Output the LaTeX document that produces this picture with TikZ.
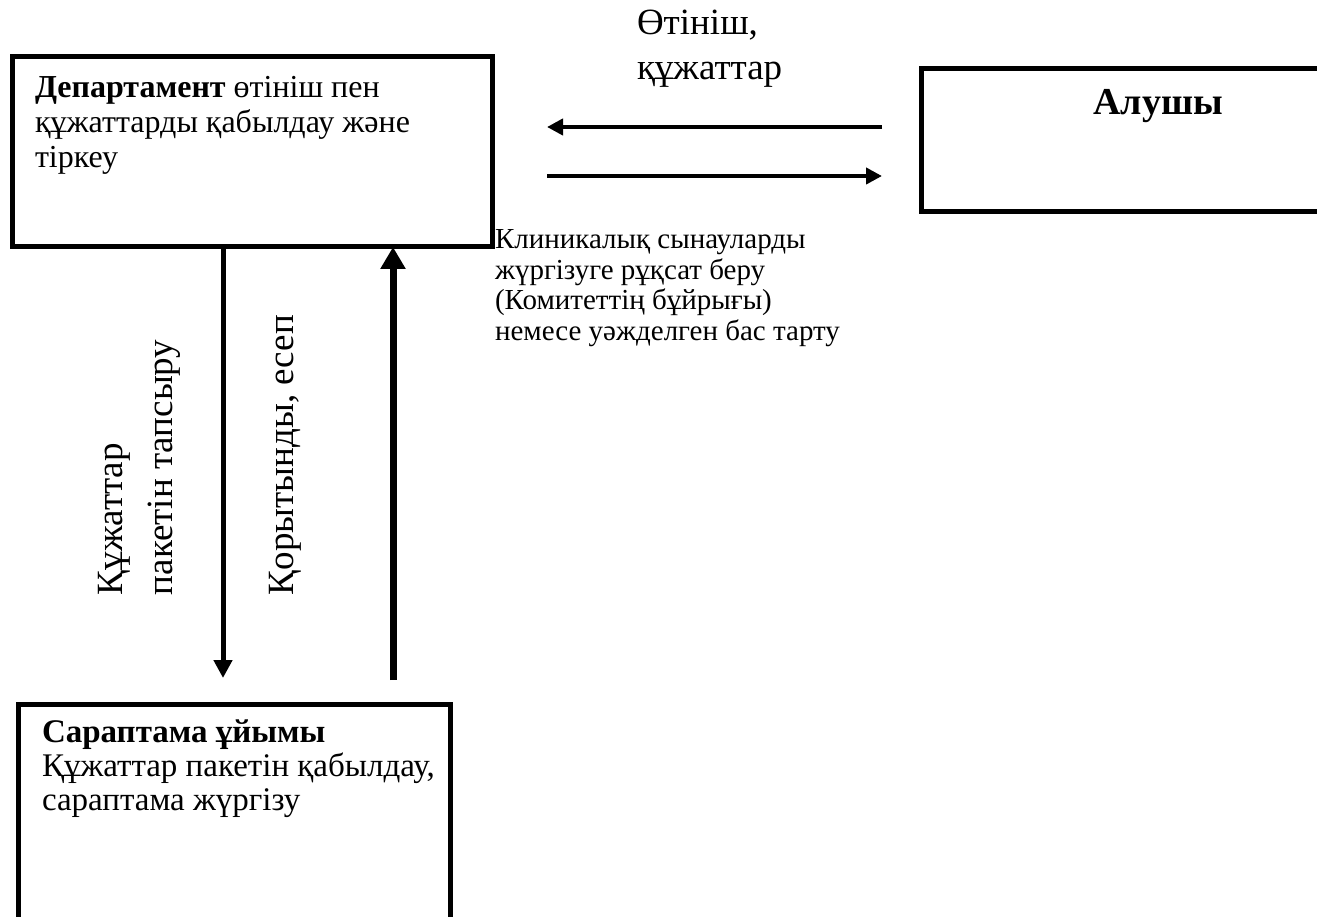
\documentclass[tikz,border=0pt]{standalone}
\usepackage{fontspec}
\setmainfont{Liberation Serif}
\usetikzlibrary{arrows.meta}
\begin{document}
\begin{tikzpicture}[x=1pt,y=-1pt,
  box/.style={draw, line width=5pt, inner sep=0pt, outer sep=0pt, anchor=north west},
  flow/.style={line width=4pt, -{Triangle[length=16pt,width=16pt]}},
  txt/.style={inner sep=0pt, outer sep=0pt, anchor=base west, align=left},
  vtxt/.style={inner sep=0pt, outer sep=0pt, anchor=base west, rotate=90, font=\fontsize{37}{44}\selectfont}]
\clip (0,0) rectangle (1317,917);
\fill[white] (0,0) rectangle (1317,917);
% boxes
\node[box, minimum width=480pt, minimum height=190pt] (dep) at (12,57) {};
\node[box, minimum width=460pt, minimum height=143pt] (alu) at (921,69) {};
\node[box, minimum width=432pt, minimum height=260pt] (sar) at (18,704) {};
% texts (base anchor = baseline of the last line)
\node[txt, font=\fontsize{32}{35}\selectfont] (deptxt) at (35,168)
  {\textbf{Департамент} өтініш пен\\құжаттарды қабылдау және\\тіркеу};
\node[inner sep=0pt, anchor=base, font=\bfseries\fontsize{38}{40}\selectfont] (alutxt) at (1158,115) {Алушы};
\node[txt, font=\fontsize{33}{34}\selectfont] (sartxt) at (42,810)
  {\textbf{Сараптама ұйымы}\\Құжаттар пакетін қабылдау,\\сараптама жүргізу};
\node[txt, font=\fontsize{37}{45}\selectfont] (req) at (637,80) {Өтініш,\\құжаттар};
\node[txt, font=\fontsize{29}{30.5}\selectfont] (perm) at (495,340)
  {Клиникалық сынауларды\\жүргізуге рұқсат беру\\(Комитеттің бұйрығы)\\немесе уәжделген бас тарту};
\node[vtxt] (v1) at (122,595) {Құжаттар};
\node[vtxt] (v2) at (172,595) {пакетін тапсыру};
\node[vtxt] (v3) at (293,595) {Қорытынды, есеп};
% arrow end points
\coordinate (a1s) at (882,127);
\coordinate (a1e) at (547,127);
\coordinate (a2s) at (547,176);
\coordinate (a2e) at (882,176);
\coordinate (dd) at (223,678);
\coordinate (du) at (393,680);
% connectors
\draw[flow] (a1s) -- (a1e);
\draw[flow] (a2s) -- (a2e);
\draw[line width=5pt, -{Triangle[length=18pt,width=18pt]}] (dep.south -| dd) -- (dd);
\draw[line width=7pt, -{Triangle[length=22pt,width=24pt]}] (du) -- (dep.south -| du);
\end{tikzpicture}
\end{document}
